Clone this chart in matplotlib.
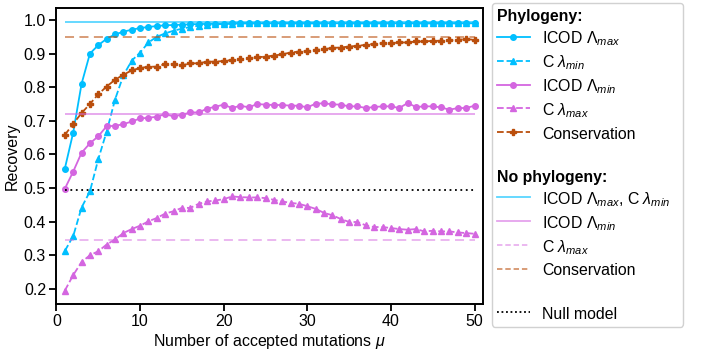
import numpy as np
import matplotlib
matplotlib.use("Agg")
import matplotlib.pyplot as plt
from matplotlib.lines import Line2D
import matplotlib.transforms as mtransforms

plt.rcParams['font.family'] = ['Liberation Sans', 'DejaVu Sans']
plt.rcParams['mathtext.fontset'] = 'custom'
plt.rcParams['mathtext.rm'] = 'Liberation Sans'
plt.rcParams['mathtext.it'] = 'Liberation Sans:italic'
plt.rcParams['mathtext.bf'] = 'Liberation Sans:bold'

mu = list(range(1, 51))

icod_max_phylo = [0.558, 0.665, 0.810, 0.900, 0.925, 0.944, 0.957, 0.965, 0.971, 0.976,
                  0.979, 0.982, 0.984, 0.985, 0.986, 0.987, 0.988, 0.988, 0.989, 0.989,
                  0.990, 0.990, 0.990, 0.990, 0.990, 0.990, 0.990, 0.990, 0.990, 0.990,
                  0.990, 0.990, 0.990, 0.990, 0.990, 0.990, 0.990, 0.990, 0.990, 0.990,
                  0.990, 0.990, 0.990, 0.990, 0.990, 0.990, 0.990, 0.990, 0.990, 0.990]
c_min_phylo = [0.313, 0.357, 0.442, 0.490, 0.586, 0.668, 0.763, 0.835, 0.879, 0.903,
               0.933, 0.950, 0.960, 0.968, 0.974, 0.979, 0.983, 0.985, 0.987, 0.988,
               0.989, 0.990, 0.990, 0.990, 0.990, 0.990, 0.990, 0.990, 0.990, 0.990,
               0.990, 0.990, 0.990, 0.990, 0.990, 0.990, 0.990, 0.990, 0.990, 0.990,
               0.990, 0.990, 0.990, 0.990, 0.990, 0.990, 0.990, 0.990, 0.990, 0.990]
icod_min_phylo = [0.498, 0.549, 0.605, 0.633, 0.654, 0.684, 0.685, 0.690, 0.698, 0.707,
                  0.709, 0.712, 0.720, 0.713, 0.718, 0.725, 0.725, 0.736, 0.742, 0.748,
                  0.738, 0.745, 0.740, 0.750, 0.748, 0.747, 0.747, 0.745, 0.745, 0.740,
                  0.751, 0.752, 0.749, 0.748, 0.743, 0.743, 0.738, 0.741, 0.743, 0.743,
                  0.738, 0.753, 0.741, 0.743, 0.743, 0.740, 0.733, 0.738, 0.738, 0.745]
c_max_phylo = [0.195, 0.241, 0.280, 0.300, 0.312, 0.332, 0.347, 0.366, 0.378, 0.388,
               0.401, 0.411, 0.424, 0.431, 0.441, 0.441, 0.453, 0.460, 0.463, 0.467,
               0.475, 0.473, 0.472, 0.472, 0.470, 0.465, 0.460, 0.456, 0.453, 0.446,
               0.438, 0.426, 0.419, 0.408, 0.399, 0.399, 0.389, 0.384, 0.384, 0.381,
               0.378, 0.376, 0.378, 0.371, 0.373, 0.371, 0.371, 0.368, 0.366, 0.364]
conservation_phylo = [0.658, 0.691, 0.723, 0.750, 0.779, 0.802, 0.822, 0.837, 0.850, 0.857,
                      0.861, 0.861, 0.869, 0.869, 0.865, 0.871, 0.871, 0.876, 0.876, 0.878,
                      0.881, 0.883, 0.886, 0.889, 0.891, 0.894, 0.898, 0.903, 0.906, 0.907,
                      0.911, 0.913, 0.917, 0.918, 0.921, 0.923, 0.926, 0.929, 0.931, 0.931,
                      0.933, 0.933, 0.936, 0.936, 0.938, 0.938, 0.939, 0.941, 0.943, 0.941]

icod_max_nophylo = 0.994
icod_min_nophylo = 0.720
c_max_nophylo = 0.344
conservation_nophylo = 0.949
null_model = 0.493

CYAN = '#00BFFF'
MAG = '#D466E0'
BROWN = '#BA4E0C'

fig = plt.figure(figsize=(7.06, 3.56), dpi=100)
ax = fig.add_axes([0.080, 0.146, 0.604, 0.831])

lw = 1.3
l1, = ax.plot(mu, icod_max_phylo, '-', marker='o', color=CYAN, lw=lw, ms=4)
l2, = ax.plot(mu, c_min_phylo, '--', marker='^', color=CYAN, lw=lw, ms=4)
l3, = ax.plot(mu, icod_min_phylo, '-', marker='o', color=MAG, lw=lw, ms=4)
l4, = ax.plot(mu, c_max_phylo, '--', marker='^', color=MAG, lw=lw, ms=4)
l5, = ax.plot(mu, conservation_phylo, '--', marker='P', color=BROWN, lw=lw, ms=5)

x0, x1 = mu[0], mu[-1]
ax.hlines(icod_max_nophylo, x0, x1, colors=CYAN, alpha=0.65, lw=lw, linestyles='-')
ax.hlines(icod_min_nophylo, x0, x1, colors=MAG, alpha=0.6, lw=lw, linestyles='-')
ax.hlines(c_max_nophylo, x0, x1, colors=MAG, alpha=0.5, lw=lw, linestyles=(0, (5, 3)))
ax.hlines(conservation_nophylo, x0, x1, colors=BROWN, alpha=0.6, lw=lw, linestyles=(0, (5, 3)))
ax.hlines(null_model, x0, x1, colors='black', lw=lw, linestyles=(0, (1, 2)))

ax.set_xlim(0, 51)
ax.set_ylim(0.155, 1.035)
ax.set_xticks([0, 10, 20, 30, 40, 50])
ax.set_yticks([0.2, 0.3, 0.4, 0.5, 0.6, 0.7, 0.8, 0.9, 1.0])
ax.tick_params(labelsize=11.5, width=1.3, length=5, pad=2.5)
for s in ax.spines.values():
    s.set_linewidth(1.4)
ax.set_xlabel(r'Number of accepted mutations $\mu$', fontsize=11.5, labelpad=2)
ax.set_ylabel('Recovery', fontsize=11.5, labelpad=3)

blank = Line2D([], [], color='none')
h1 = Line2D([], [], color=CYAN, alpha=0.65, lw=lw)
h2 = Line2D([], [], color=MAG, alpha=0.6, lw=lw)
h3 = Line2D([], [], color=MAG, alpha=0.5, lw=lw, ls=(0, (3, 1.6)))
h4 = Line2D([], [], color=BROWN, alpha=0.6, lw=lw, ls=(0, (3, 1.6)))
h5 = Line2D([], [], color='black', lw=lw, ls=(0, (1, 1.5)))

handles = [blank, l1, l2, l3, l4, l5, blank, blank, h1, h2, h3, h4, blank, h5]
labels = ['Phylogeny:', r'ICOD $\Lambda_{max}$', r'C $\lambda_{min}$',
          r'ICOD $\Lambda_{min}$', r'C $\lambda_{max}$', 'Conservation', ' ',
          'No phylogeny:', r'ICOD $\Lambda_{max}$, C $\lambda_{min}$',
          r'ICOD $\Lambda_{min}$', r'C $\lambda_{max}$', 'Conservation', ' ',
          'Null model']

W, H = 706.0, 356.0
fs = 11.4
hl, htp = 2.1, 0.75
leg = fig.legend(handles, labels, loc='upper left',
                 bbox_to_anchor=(492 / W, 1 - 326 / H, 191 / W, 323 / H),
                 mode='expand',
                 bbox_transform=fig.transFigure, fontsize=fs, handlelength=hl,
                 handleheight=1.2, handletextpad=htp, labelspacing=0.33,
                 borderpad=0.3, borderaxespad=0, framealpha=1, edgecolor='0.82')
dx = (hl + htp) * fs * fig.dpi / 72.0
for t in leg.get_texts():
    if t.get_text() in ('Phylogeny:', 'No phylogeny:'):
        t.set_fontweight('bold')
        t.set_transform(t.get_transform() + mtransforms.Affine2D().translate(-dx, 0))

fig.savefig('out.png', dpi=100)
